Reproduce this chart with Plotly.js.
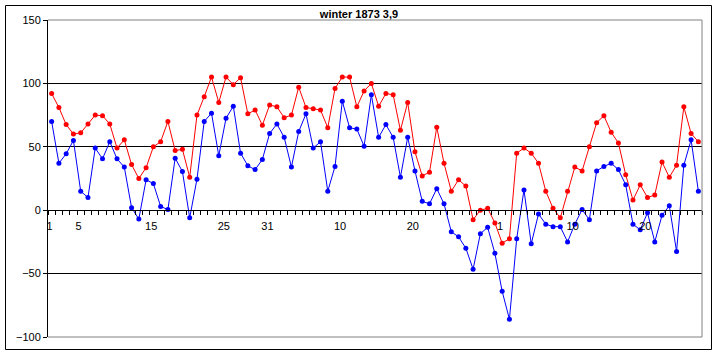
<!DOCTYPE html>
<html>
<head>
<meta charset="utf-8">
<script src="https://cdn.plot.ly/plotly-3.0.1.min.js"></script>
<style>
  html, body { margin: 0; padding: 0; background: #fff; }
  #chart { width: 718px; height: 356px; }
</style>
</head>
<body>
<div id="chart"></div>
<script>
const chartTitle = "winter 1873 3,9";

// category tick labels (day of month) and their category index
const tickLabels = ["1", "5", "15", "25", "31", "10", "20", "1", "10", "20"];
const tickIndex  = [0, 4, 14, 24, 30, 40, 50, 62, 72, 82];

// red series (upper)
const redSeries = [
  92, 81, 67.5, 60, 61, 68, 75, 74.5, 68, 49, 55.5, 36, 25, 33.5, 50, 54,
  70, 47, 48, 26, 75, 89.5, 105, 85, 105, 99, 104.5, 76, 79, 67, 83,
  81.5, 73, 75, 97, 81, 80, 79, 65, 96, 105, 105, 81.5, 94, 100, 82,
  92, 91, 63, 85, 46, 27, 30, 65.5, 37, 15, 24, 19, -7.5, 0, 1.5,
  -10, -26, -22.5, 45, 49, 45, 37, 15, 1.5, -6, 15, 34, 31, 50, 69,
  74.5, 61.5, 53, 28, 8, 20, 10, 12, 38, 26, 35.5, 81.5, 60.5, 54
];

// blue series (lower)
const blueSeries = [
  70, 37, 44.5, 55, 15, 10, 49, 40.5, 54, 40.5, 34, 2, -7, 24, 21, 3,
  0.5, 41, 30.5, -6, 24.5, 70, 76.5, 43, 72.5, 82, 45, 35, 32, 40, 60.5,
  68, 57.5, 34, 62, 76, 49, 54, 15, 34.5, 86, 65, 64, 50.5, 91, 57.5,
  67.5, 57.5, 26, 57.5, 31, 7, 5, 17, 5, -17, -21, -30, -46.5, -18.5, -13.5,
  -34, -64, -86, -22.5, 16, -26.5, -3, -11, -13, -13, -25, -11, 0.5, -7.5, 31,
  34.5, 37, 32, 20, -11, -15.5, -2, -25, -4, 3.5, -32.5, 35.5, 55.5, 15
];

const yTicks = [-100, -50, 0, 50, 100, 150];

const n = redSeries.length;
const xIdx = redSeries.map((_, i) => i);
const boundaries = [];
for (let i = 0; i <= n; i++) boundaries.push(i - 0.5);
const xRange = [-0.5, n - 0.5];

const fontFam = "Liberation Sans, Arial, sans-serif";

const traces = [
  {
    x: xIdx, y: redSeries, type: "scatter", mode: "lines+markers",
    line: { color: "#FF0000", width: 1 },
    marker: { color: "#FF0000", size: 5, symbol: "circle" },
    hoverinfo: "skip", showlegend: false
  },
  {
    x: xIdx, y: blueSeries, type: "scatter", mode: "lines+markers",
    line: { color: "#0000FF", width: 1 },
    marker: { color: "#0000FF", size: 5, symbol: "circle" },
    hoverinfo: "skip", showlegend: false
  },
  {
    x: [null], y: [null], xaxis: "x2", yaxis: "y", type: "scatter",
    mode: "markers", hoverinfo: "skip", showlegend: false
  }
];

const W = 718, H = 356, ml = 48, mr = 16, mt = 20, mb = 19;
const pw = W - ml - mr, ph = H - mt - mb;
function px(x) { return (x - ml) / pw; }
function py(y) { return (H - mb - y) / ph; }

const layout = {
  width: W, height: H,
  margin: { l: ml, r: mr, t: mt, b: mb, pad: 0 },
  paper_bgcolor: "#ffffff",
  plot_bgcolor: "#ffffff",
  font: { family: fontFam, size: 11, color: "#000" },
  title: {
    text: "<b>" + chartTitle + "</b>",
    font: { family: fontFam, size: 11, color: "#000" },
    xref: "container", x: 0.5, xanchor: "center",
    yref: "container", y: 1 - 14 / H, yanchor: "middle"
  },
  xaxis: {
    range: xRange, fixedrange: true,
    anchor: "free", position: 0.4,
    showline: true, linecolor: "#000", linewidth: 1,
    tickmode: "array", tickvals: boundaries,
    ticks: "outside", ticklen: 4, tickcolor: "#000", tickwidth: 1,
    showticklabels: false, showgrid: false, zeroline: false
  },
  xaxis2: {
    range: xRange, fixedrange: true, overlaying: "x",
    anchor: "free", position: 0.4,
    showline: false,
    tickmode: "array",
    tickvals: tickIndex.map(v => v - 0.3),
    ticktext: tickLabels,
    ticks: "outside", ticklen: 6, tickcolor: "rgba(0,0,0,0)",
    tickfont: { family: fontFam, size: 11, color: "#000" },
    showgrid: false, zeroline: false
  },
  yaxis: {
    range: [-100, 150], fixedrange: true,
    tickmode: "array", tickvals: yTicks,
    ticks: "outside", ticklen: 4, tickcolor: "#000",
    showline: true, linecolor: "#000", linewidth: 1,
    showgrid: true, gridcolor: "#000", gridwidth: 1,
    zeroline: false,
    tickfont: { family: fontFam, size: 11, color: "#000" }
  },
  shapes: [
    { type: "line", xref: "paper", yref: "paper", x0: 0, x1: 1, y0: 1, y1: 1,
      line: { color: "#808080", width: 1 }, layer: "above" },
    { type: "line", xref: "paper", yref: "paper", x0: 0, x1: 1, y0: 0, y1: 0,
      line: { color: "#808080", width: 1 }, layer: "above" },
    { type: "line", xref: "paper", yref: "paper", x0: 1, x1: 1, y0: 0, y1: 1,
      line: { color: "#808080", width: 1 }, layer: "above" },
    { type: "rect", xref: "paper", yref: "paper",
      x0: px(5.5), x1: px(711.5), y0: py(349.5), y1: py(5.5),
      line: { color: "#000", width: 1 }, fillcolor: "rgba(0,0,0,0)", layer: "below" }
  ]
};

Plotly.newPlot("chart", traces, layout, { displayModeBar: false, staticPlot: true });
</script>
</body>
</html>
